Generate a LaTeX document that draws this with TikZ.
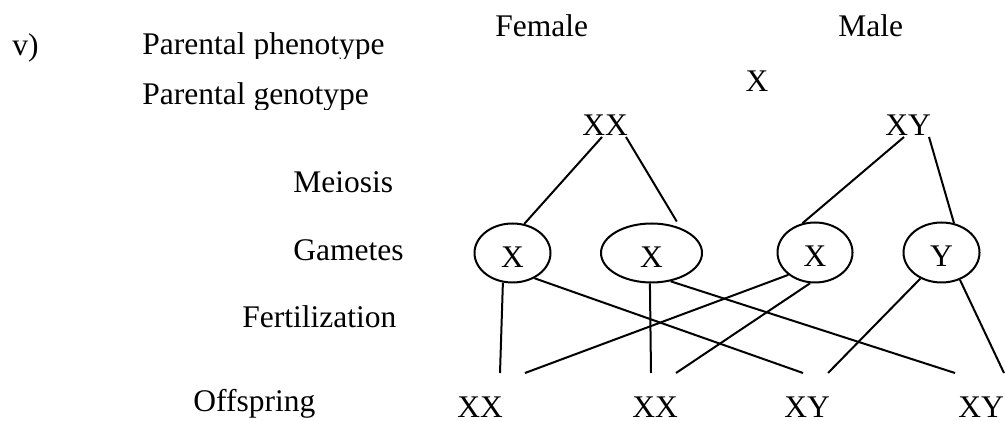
\documentclass[tikz,border=0pt]{standalone}
\usepackage{fontspec}
\setmainfont{Liberation Serif}
\usetikzlibrary{shapes.geometric}
\begin{document}
\begin{tikzpicture}[x=0.5pt,y=-0.5pt,
  lbl/.style={inner sep=0pt,font=\fontsize{15.75}{19}\selectfont},
  gam/.style={ellipse,draw,line width=1pt,lbl,text height=14.4pt,text depth=0pt},
  conn/.style={line width=1pt}]
\useasboundingbox (0,0) rectangle (1005,421);
% left column labels
\node[lbl,anchor=base west] (v) at (12,56) {v)};
\begin{scope}
\clip (130,0) rectangle (480,59);
\node[lbl,anchor=base west] (pp) at (142,55) {Parental phenotype};
\end{scope}
\begin{scope}
\clip (130,62) rectangle (480,110);
\node[lbl,anchor=base west] (pg) at (142,105) {Parental genotype};
\end{scope}
\node[lbl,anchor=base west] (mei) at (293,193) {Meiosis};
\node[lbl,anchor=base west] (gam) at (293,261) {Gametes};
\node[lbl,anchor=base west] (fer) at (242,328) {Fertilization};
\node[lbl,anchor=base west] (off) at (193,412) {Offspring};
% parents
\node[lbl,anchor=base west] (fem) at (495,37) {Female};
\node[lbl,anchor=base west] (mal) at (838,37) {Male};
\node[lbl,anchor=base] (cross) at (757,92) {X};
\node[lbl,anchor=base] (pxx) at (605,136) {XX};
\node[lbl,anchor=base] (pxy) at (908,136) {XY};
% gametes
\node[gam,minimum width=38pt,minimum height=29.5pt] (g1) at (512.5,253) {X};
\node[gam,minimum width=50.5pt,minimum height=29.5pt] (g2) at (651.5,253) {X};
\node[gam,minimum width=37.5pt,minimum height=30pt] (g3) at (815,252.5) {X};
\node[gam,minimum width=38pt,minimum height=30pt] (g4) at (941.5,252.5) {Y};
% offspring
\node[lbl,anchor=base] (o1) at (480,417) {XX};
\node[lbl,anchor=base] (o2) at (655,417) {XX};
\node[lbl,anchor=base] (o3) at (807,417) {XY};
\node[lbl,anchor=base] (o4) at (981,417) {XY};
% meiosis lines
\draw[conn] ([shift={(-3,1)}]pxx.base) -- (g1.68);
\draw[conn] ([shift={(21,1)}]pxx.base) -- ([shift={(3,-4)}]g2.51);
\draw[conn] ([shift={(-4,1)}]pxy.base) -- (g3.113);
\draw[conn] ([shift={(21,1)}]pxy.base) -- (g4.67);
% fertilization lines
\draw[conn] (g1.-108) -- ([shift={(20,-44)}]o1.base);
\draw[conn] (g1.-49) -- ([shift={(-4,-44)}]o3.base);
\draw[conn] (g2.-93) -- ([shift={(-4,-44)}]o2.base);
\draw[conn] (g2.-56) -- ([shift={(-26,-44)}]o4.base);
\draw[conn] (g3.-140) -- ([shift={(45,-44)}]o1.base);
\draw[conn] (g3.-99) -- ([shift={(21,-44)}]o2.base);
\draw[conn] (g4.-129) -- ([shift={(21,-44)}]o3.base);
\draw[conn] (g4.-56) -- ([shift={(23,-44)}]o4.base);
\end{tikzpicture}
\end{document}
